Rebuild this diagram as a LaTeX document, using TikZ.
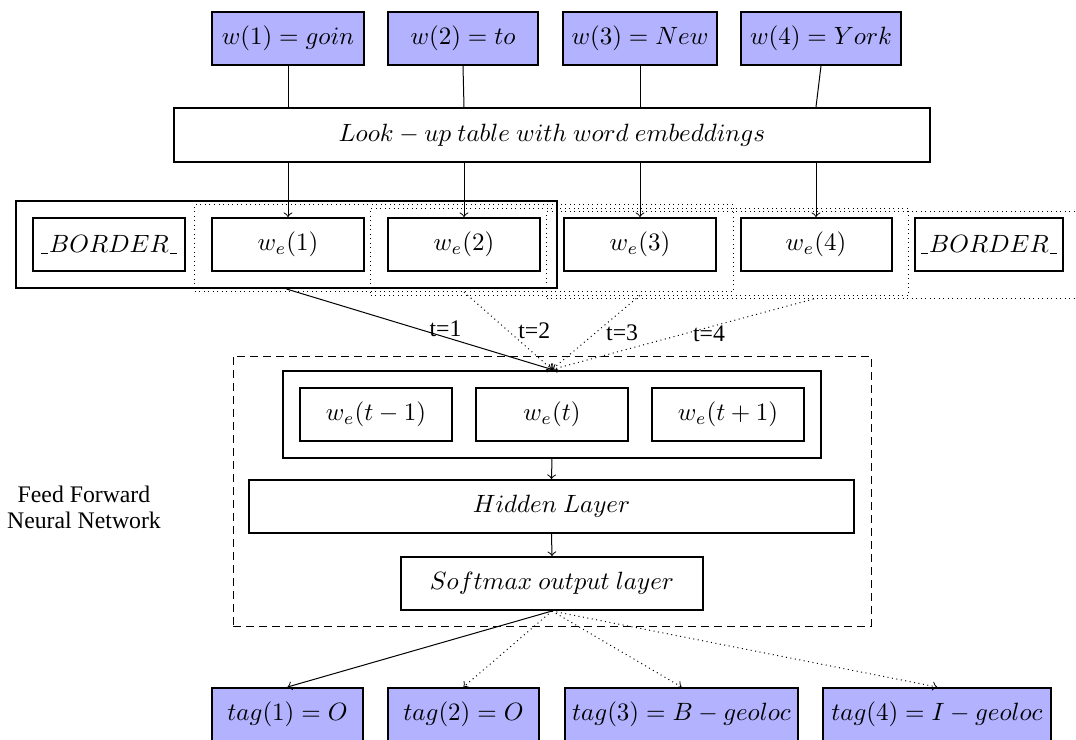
\documentclass[tikz,border=0pt]{standalone}
\usepackage[no-math]{fontspec}
\setmainfont{Liberation Serif}
\usetikzlibrary{fit}
\newcommand{\bu}{\kern0.3pt\rule[-0.5pt]{2.8pt}{0.45pt}\kern0.3pt}
\begin{document}
\begin{tikzpicture}[x=0.4pt,y=-0.4pt,
  mybox/.style={draw, thick, inner sep=0pt, minimum height=21.2pt},
  wordbox/.style={mybox, fill=blue!30},
  win/.style={draw, inner sep=6.4pt},
  dotline/.style={dash pattern=on 0.4pt off 1.4pt},
  dashline/.style={dash pattern=on 3pt off 2.2pt},
  conn/.style={->, thin},
  lbl/.style={font=\rmfamily\fontsize{9.5}{10.5}\selectfont, align=center}]
\useasboundingbox (0,0) rectangle (1076,740);

% input words
\node[wordbox, minimum width=60.8pt] (w1) at (288,38.5) {$w(1) = goin$};
\node[wordbox, minimum width=60pt]   (w2) at (463,38.5) {$w(2) = to$};
\node[wordbox, minimum width=61.6pt] (w3) at (640,38.5) {$w(3) = New$};
\node[wordbox, minimum width=64pt]   (w4) at (821,38.5) {$w(4) = York$};

% look-up table
\node[mybox, minimum width=302.4pt, minimum height=21.6pt] (lookup) at (552,135) {$Look - up\ table\ with\ word\ embeddings$};

% embeddings row
\node[mybox, minimum width=60.8pt] (b0) at (109,244.5) {\bu$BORDER$\bu};
\node[mybox, minimum width=60.8pt] (e1) at (288,244.5) {$w_e(1)$};
\node[mybox, minimum width=60.8pt] (e2) at (464,244.5) {$w_e(2)$};
\node[mybox, minimum width=60.8pt] (e3) at (640,244.5) {$w_e(3)$};
\node[mybox, minimum width=60.4pt] (e4) at (816,244.5) {$w_e(4)$};
\node[mybox, minimum width=59.2pt] (b5) at (989,244.5) {\bu$BORDER$\bu};

% windows
\node[win, thick, fit=(b0)(e2)] (W1) {};
\node[win, thin, dotline, fit=(e1)(e3), yshift=-1.4pt] (W2) {};
\node[win, thin, dotline, fit=(e2)(e4), yshift=-2.8pt] (W3) {};
\node[win, thin, dotline, fit=(e3)(b5), yshift=-4.2pt] (W4) {};

% word -> lookup -> embeddings
\foreach \i in {1,2,3,4}{
  \draw[thin] (w\i.south) -- (e\i |- lookup.north);
  \draw[conn] (e\i |- lookup.south) -- (e\i.north);
}

% feed forward network
\node[draw, thin, dashline, inner sep=0pt, fit={(233,356) (871,626)}] (ffnn) {};
\node[lbl] (fflabel) at (84,507) {Feed Forward\\Neural Network};

\node[mybox, minimum width=60.8pt] (c1) at (376,414) {$w_e(t-1)$};
\node[mybox, minimum width=60.8pt] (c2) at (552,414) {$w_e(t)$};
\node[mybox, minimum width=60.8pt] (c3) at (728,414) {$w_e(t+1)$};
\node[draw, thick, inner sep=6.4pt, fit=(c1)(c3)] (ctx) {};

\node[mybox, minimum width=242pt] (hidden) at (551.5,506.5) {$Hidden\ Layer$};
\node[mybox, minimum width=120.8pt] (soft) at (552,583.5) {$Softmax\ output\ layer$};

\draw[conn] (ctx.south) -- (hidden.north);
\draw[conn] (hidden.south) -- (soft.north);

% windows -> context
\draw[conn] (W1.south) -- node[lbl, midway, xshift=10.5pt] {t=1} (ctx.north);
\draw[conn, dotline] (W2.south) -- node[lbl, midway, xshift=10.5pt] {t=2} (ctx.north);
\draw[conn, dotline] (W3.south) -- node[lbl, midway, xshift=10.5pt] {t=3} (ctx.north);
\draw[conn, dotline] (W4.south) -- node[lbl, midway, xshift=10.5pt] {t=4} (ctx.north);

% output tags
\node[wordbox, minimum width=60.4pt] (t1) at (287.5,714.5) {$tag(1) = O$};
\node[wordbox, minimum width=60.4pt] (t2) at (463.5,714.5) {$tag(2) = O$};
\node[wordbox, minimum width=93.2pt] (t3) at (681.5,714.5) {$tag(3) = B - geoloc$};
\node[wordbox, minimum width=91.2pt] (t4) at (937,714.5) {$tag(4) = I - geoloc$};

\draw[conn] (soft.south) -- (t1.north);
\draw[conn, dotline] (soft.south) -- (t2.north);
\draw[conn, dotline] (soft.south) -- (t3.north);
\draw[conn, dotline] (soft.south) -- (t4.north);
\end{tikzpicture}
\end{document}
